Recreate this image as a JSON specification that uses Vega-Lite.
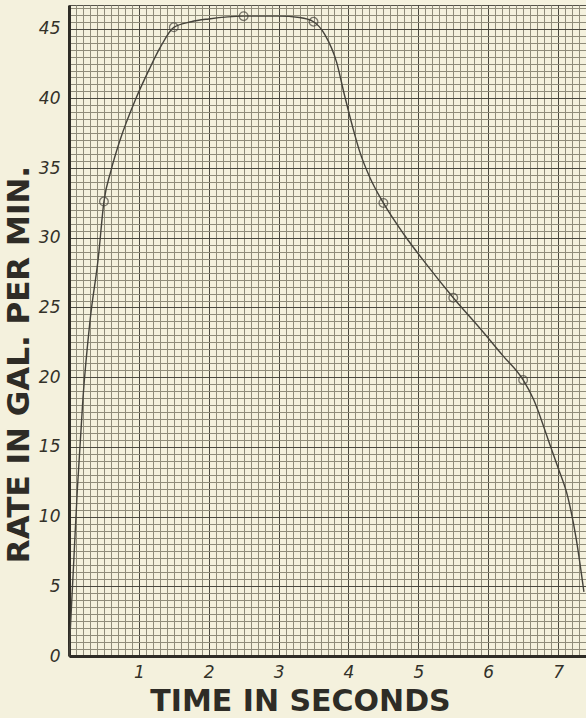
{
  "$schema": "https://vega.github.io/schema/vega-lite/v6.json",
  "width": 517,
  "height": 651,
  "autosize": {"type": "none"},
  "padding": {"left": 69, "top": 5, "right": 0, "bottom": 62},
  "background": "#f4f1dd",
  "config": {"view": {"stroke": "#55534a", "strokeWidth": 1, "fill": "#f4f1dd"}},
  "datasets": {
    "curve": [
      {"time": 0, "rate": 0},
      {"time": 0.03, "rate": 3},
      {"time": 0.07, "rate": 7},
      {"time": 0.12, "rate": 12},
      {"time": 0.2, "rate": 18.5},
      {"time": 0.3, "rate": 24},
      {"time": 0.42, "rate": 28.6},
      {"time": 0.5, "rate": 32.6},
      {"time": 0.6, "rate": 34.8},
      {"time": 0.73, "rate": 37},
      {"time": 0.95, "rate": 39.9},
      {"time": 1.15, "rate": 42.1},
      {"time": 1.3, "rate": 43.6},
      {"time": 1.5, "rate": 45.1},
      {"time": 1.75, "rate": 45.5},
      {"time": 2.0, "rate": 45.7},
      {"time": 2.5, "rate": 45.9},
      {"time": 3.0, "rate": 45.9},
      {"time": 3.3, "rate": 45.8},
      {"time": 3.5, "rate": 45.5},
      {"time": 3.66, "rate": 44.6},
      {"time": 3.83, "rate": 42.6},
      {"time": 3.94, "rate": 40.3},
      {"time": 4.09, "rate": 37.4},
      {"time": 4.16, "rate": 36.2},
      {"time": 4.3, "rate": 34.4},
      {"time": 4.5, "rate": 32.5},
      {"time": 4.8, "rate": 30.2},
      {"time": 5.1, "rate": 28.2},
      {"time": 5.5, "rate": 25.7},
      {"time": 5.9, "rate": 23.4},
      {"time": 6.2, "rate": 21.6},
      {"time": 6.5, "rate": 19.8},
      {"time": 6.65, "rate": 18.4},
      {"time": 6.86, "rate": 15.5},
      {"time": 7.0, "rate": 13.5},
      {"time": 7.14, "rate": 11.4},
      {"time": 7.26, "rate": 8.4},
      {"time": 7.37, "rate": 4.6}
    ],
    "points": [
      {"time": 0.5, "rate": 32.6},
      {"time": 1.5, "rate": 45.1},
      {"time": 2.5, "rate": 45.9},
      {"time": 3.5, "rate": 45.5},
      {"time": 4.5, "rate": 32.5},
      {"time": 5.5, "rate": 25.7},
      {"time": 6.5, "rate": 19.8}
    ]
  },
  "layer": [
    {
      "data": {"name": "curve"},
      "mark": {"type": "line", "interpolate": "monotone", "color": "#45433b", "strokeWidth": 1.4},
      "encoding": {
        "x": {
          "field": "time",
          "type": "quantitative",
          "scale": {"domain": [0, 7.4], "nice": false, "zero": false},
          "axis": {
            "title": "TIME IN SECONDS",
            "tickCount": 74,
            "grid": true,
            "gridColor": {"condition": {"test": "datum.value % 1 == 0", "value": "#4a483f"}, "value": "#8f8c7a"},
            "gridWidth": 1,
            "ticks": false,
            "domainColor": "#2e2c26",
            "domainWidth": 3,
            "labelExpr": "datum.value % 1 == 0 && datum.value > 0 ? format(datum.value, 'd') : ''",
            "labelOverlap": false,
            "labelFlush": false,
            "labelFont": "DejaVu Sans",
            "labelFontStyle": "italic",
            "labelFontSize": 17,
            "labelColor": "#333129",
            "labelPadding": 8,
            "titleFont": "DejaVu Sans",
            "titleFontWeight": "bold",
            "titleFontSize": 30,
            "titleColor": "#2e2c26",
            "titleX": 231,
            "titleY": 54,
            "titleAlign": "center",
            "titleBaseline": "alphabetic"
          }
        },
        "y": {
          "field": "rate",
          "type": "quantitative",
          "scale": {"domain": [0, 46.7], "nice": false, "zero": false},
          "axis": {
            "title": "RATE IN GAL. PER MIN.",
            "tickCount": 93,
            "grid": true,
            "gridColor": {"condition": {"test": "datum.value % 5 == 0", "value": "#4a483f"}, "value": "#8f8c7a"},
            "gridWidth": 1,
            "ticks": false,
            "domainColor": "#2e2c26",
            "domainWidth": 3,
            "labelExpr": "datum.value % 5 == 0 ? format(datum.value, 'd') : ''",
            "labelOverlap": false,
            "labelFlush": false,
            "labelFont": "DejaVu Sans",
            "labelFontStyle": "italic",
            "labelFontSize": 17,
            "labelColor": "#333129",
            "labelPadding": 9,
            "titleFont": "DejaVu Sans",
            "titleFontWeight": "bold",
            "titleFontSize": 31,
            "titleColor": "#2e2c26",
            "titleX": -50,
            "titleY": 359,
            "titleAngle": -90,
            "titleAlign": "center",
            "titleBaseline": "middle"
          }
        }
      }
    },
    {
      "data": {"name": "points"},
      "mark": {"type": "point", "shape": "circle", "filled": false, "size": 75, "color": "#45433b", "strokeWidth": 1.3},
      "encoding": {
        "x": {"field": "time", "type": "quantitative"},
        "y": {"field": "rate", "type": "quantitative"}
      }
    }
  ]
}
